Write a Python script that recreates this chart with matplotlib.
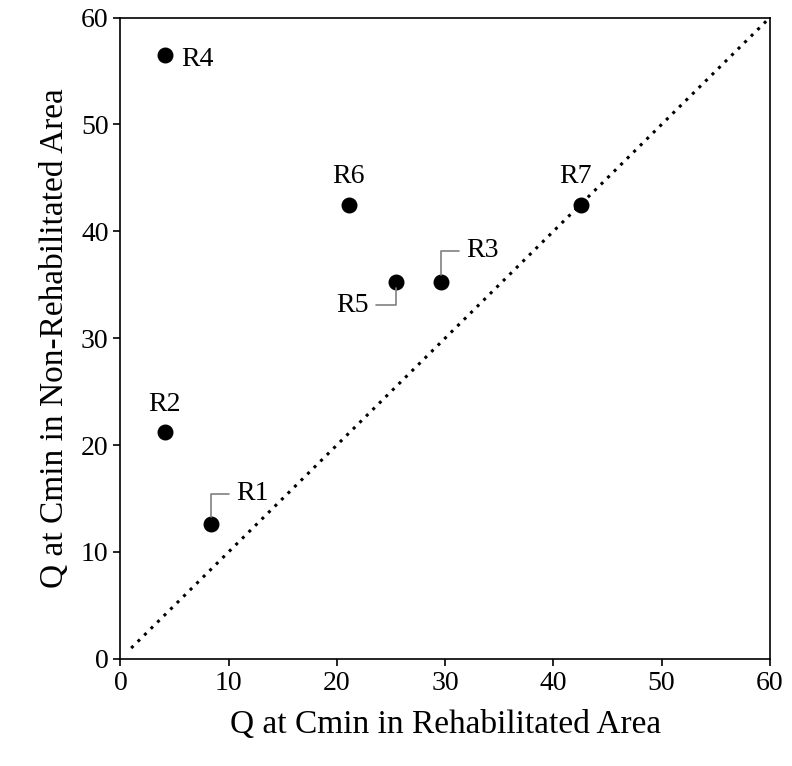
import matplotlib.pyplot as plt
import numpy as np

plt.rcParams['font.family'] = ['Liberation Serif', 'DejaVu Serif']

labels = ["R1", "R2", "R3", "R4", "R5", "R6", "R7"]
x_rehab = [8.4, 4.1, 29.6, 4.1, 25.5, 21.1, 42.6]
y_nonrehab = [12.6, 21.2, 35.3, 56.5, 35.3, 42.5, 42.5]

# label offsets in points (dx, dy) and whether a leader line is drawn
offsets = {
    "R1": (18, 22, True),
    "R2": (0, 20, False),
    "R3": (18, 22, True),
    "R4": (12, -3, False),
    "R5": (-20, -17, True),
    "R6": (0, 20, False),
    "R7": (-4, 20, False),
}

fig, ax = plt.subplots(figsize=(7.92, 7.66), dpi=100)
fig.subplots_adjust(left=0.152, right=0.972, top=0.977, bottom=0.14)

ax.plot([1, 60], [1, 60], linestyle=(0, (1, 2)), color="black", linewidth=2.2)
ax.scatter(x_rehab, y_nonrehab, s=110, color="black", zorder=3)

for lab, x, y in zip(labels, x_rehab, y_nonrehab):
    dx, dy, lead = offsets[lab]
    if lead:
        ax.annotate(lab, (x, y), xytext=(dx, dy), textcoords="offset points",
                    fontsize=20, ha="left" if dx > 0 else "right", va="center",
                    arrowprops=dict(arrowstyle="-", color="gray", lw=1.2,
                                    shrinkA=3, shrinkB=5,
                                    connectionstyle="angle,angleA=0,angleB=90,rad=0"))
    else:
        ha = "left" if dx > 5 else ("right" if dx < -5 else "center")
        ax.annotate(lab, (x, y), xytext=(dx, dy), textcoords="offset points",
                    fontsize=20, ha=ha, va="center")

ax.set_xlim(0, 60)
ax.set_ylim(0, 60)
ax.set_xticks(np.arange(0, 61, 10))
ax.set_yticks(np.arange(0, 61, 10))
ax.tick_params(labelsize=20, direction="out", length=5, width=1.2)
for s in ax.spines.values():
    s.set_linewidth(1.2)
ax.set_xlabel("Q at Cmin in Rehabilitated Area", fontsize=24, labelpad=10)
ax.set_ylabel("Q at Cmin in Non-Rehabilitated Area", fontsize=24, labelpad=8)

fig.savefig("out.png", dpi=100)
